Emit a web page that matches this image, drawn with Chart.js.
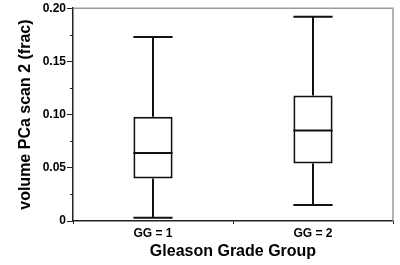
<!DOCTYPE html>
<html>
<head>
<meta charset="utf-8">
<script src="https://cdn.jsdelivr.net/npm/chart.js@4/dist/chart.umd.min.js"></script>
<style>
  html, body { margin: 0; padding: 0; background: #fff; }
  #wrap { width: 400px; height: 265px; }
</style>
</head>
<body>
<div id="wrap"><canvas id="boxChart" width="400" height="265"></canvas></div>
<script>
// box plot summary per Gleason grade group
const categories = ["GG = 1", "GG = 2"];
const minVals = [0.003, 0.015];
const q1Vals = [0.040, 0.054];
const medianVals = [0.064, 0.085];
const q3Vals = [0.098, 0.118];
const maxVals = [0.173, 0.192];
const yTicks = [0, 0.05, 0.10, 0.15, 0.20];

const FONT = "'Liberation Sans', Arial, Helvetica, sans-serif";

// whiskers, caps, medians, minor ticks and the grey frame
const boxExtras = {
  id: "boxExtras",
  afterDatasetsDraw(chart) {
    const ctx = chart.ctx;
    const y = chart.scales.y;
    const meta = chart.getDatasetMeta(0);
    ctx.save();
    ctx.strokeStyle = "#111";
    ctx.lineWidth = 2;
    meta.data.forEach((bar, i) => {
      const half = bar.width / 2;
      const x = bar.x;
      const pMin = y.getPixelForValue(minVals[i]);
      const pQ1 = y.getPixelForValue(q1Vals[i]);
      const pMed = y.getPixelForValue(medianVals[i]);
      const pQ3 = y.getPixelForValue(q3Vals[i]);
      const pMax = y.getPixelForValue(maxVals[i]);
      ctx.beginPath();
      ctx.moveTo(x, pQ3); ctx.lineTo(x, pMax);
      ctx.moveTo(x, pQ1); ctx.lineTo(x, pMin);
      ctx.moveTo(x - half, pMax); ctx.lineTo(x + half, pMax);
      ctx.moveTo(x - half, pMin); ctx.lineTo(x + half, pMin);
      ctx.moveTo(x - half, pMed); ctx.lineTo(x + half, pMed);
      ctx.stroke();
    });
    ctx.restore();
  },
  afterDraw(chart) {
    const ctx = chart.ctx;
    const area = chart.chartArea;
    const y = chart.scales.y;
    ctx.save();
    ctx.strokeStyle = "#999";
    ctx.lineWidth = 1.5;
    ctx.beginPath();
    ctx.moveTo(area.left, area.top); ctx.lineTo(area.right, area.top);
    ctx.lineTo(area.right, area.bottom);
    ctx.stroke();
    ctx.strokeStyle = "#222";
    ctx.lineWidth = 1;
    ctx.beginPath();
    for (let i = 0; i < y.ticks.length - 1; i++) {
      const mid = (y.ticks[i].value + y.ticks[i + 1].value) / 2;
      const p = Math.round(y.getPixelForValue(mid)) + 0.5;
      ctx.moveTo(area.left - 3, p); ctx.lineTo(area.left, p);
    }
    ctx.stroke();
    ctx.restore();
  }
};

new Chart(document.getElementById("boxChart").getContext("2d"), {
  type: "bar",
  data: {
    labels: categories,
    datasets: [{
      data: q1Vals.map((q1, i) => [q1, q3Vals[i]]),
      backgroundColor: "#fff",
      borderColor: "#111",
      borderWidth: 2,
      borderSkipped: false,
      categoryPercentage: 1,
      barPercentage: 0.245
    }]
  },
  options: {
    responsive: false,
    animation: false,
    devicePixelRatio: 1,
    layout: { padding: { top: 6, right: 7, left: 0, bottom: 0 } },
    plugins: { legend: { display: false }, tooltip: { enabled: false } },
    scales: {
      x: {
        afterFit(scale) { scale.height = 44; },
        offset: true,
        grid: { offset: true, drawOnChartArea: false, tickLength: 3, color: "#222", lineWidth: 1 },
        border: { color: "#222", width: 1.5 },
        ticks: { color: "#000", padding: 2, font: { family: FONT, size: 12, weight: "bold" } },
        title: {
          display: true,
          text: "Gleason Grade Group",
          color: "#000",
          padding: { top: 0, bottom: 4 },
          font: { family: FONT, size: 16, weight: "bold" }
        }
      },
      y: {
        afterFit(scale) { scale.width = 73; },
        min: 0,
        max: 0.2,
        afterBuildTicks(scale) { scale.ticks = yTicks.map(v => ({ value: v })); },
        grid: { drawOnChartArea: false, tickLength: 6, color: "#222", lineWidth: 1 },
        border: { color: "#222", width: 1.5 },
        ticks: {
          color: "#000",
          padding: 1,
          font: { family: FONT, size: 12, weight: "bold" },
          callback: v => (v === 0 ? "0" : v.toFixed(2))
        },
        title: {
          display: true,
          text: "volume PCa scan 2 (frac)",
          color: "#000",
          padding: { top: 16, bottom: 0 },
          font: { family: FONT, size: 16, weight: "bold" }
        }
      }
    }
  },
  plugins: [boxExtras]
});
</script>
</body>
</html>
